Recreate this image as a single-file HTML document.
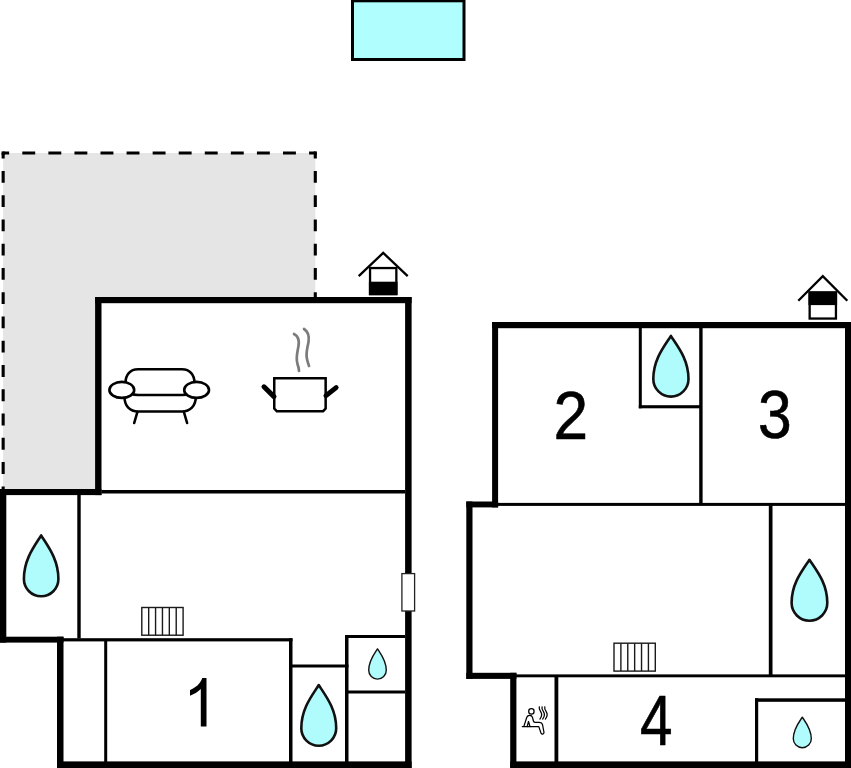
<!DOCTYPE html>
<html><head><meta charset="utf-8"><style>
html,body{margin:0;padding:0;background:#fff;width:851px;height:768px;overflow:hidden}
svg{display:block}
text{font-family:"Liberation Sans",sans-serif}
</style></head><body>
<svg width="851" height="768" viewBox="0 0 851 768">
<rect x="352.5" y="0.8" width="111.5" height="58.7" fill="#b0fefe" stroke="#000" stroke-width="3"/>
<rect x="3.1" y="153" width="312.2" height="340" fill="#e5e5e5"/>
<line x1="3.1" y1="153" x2="315.3" y2="153" stroke="#000" stroke-width="3.2" stroke-dasharray="12.9 13.17" stroke-dashoffset="6.87"/>
<line x1="3.15" y1="153" x2="3.15" y2="490" stroke="#000" stroke-width="3.1" stroke-dasharray="11.8 12.46" stroke-dashoffset="6.26"/>
<line x1="315.3" y1="153" x2="315.3" y2="298" stroke="#000" stroke-width="3.1" stroke-dasharray="11.8 12.46" stroke-dashoffset="6.26"/>
<rect x="1.55" y="151.4" width="3.15" height="3.20" fill="#000"/>
<rect x="313.75" y="151.4" width="3.15" height="3.20" fill="#000"/>
<rect x="96" y="303" width="309.00" height="187.00" fill="#fff"/>
<rect x="0" y="490" width="405.00" height="272.00" fill="#fff"/>
<rect x="95.1" y="297" width="316.50" height="6.20" fill="#000"/>
<rect x="405.1" y="297" width="6.50" height="471.00" fill="#000"/>
<rect x="57" y="761.4" width="354.60" height="6.60" fill="#000"/>
<rect x="57" y="636.7" width="6.50" height="131.30" fill="#000"/>
<rect x="0" y="636.7" width="63.50" height="5.90" fill="#000"/>
<rect x="0" y="489" width="6.30" height="153.60" fill="#000"/>
<rect x="0" y="489" width="101.50" height="6.10" fill="#000"/>
<rect x="95.1" y="297" width="6.40" height="198.10" fill="#000"/>
<rect x="101.5" y="490" width="303.50" height="3.50" fill="#000"/>
<rect x="77.3" y="493" width="3.40" height="145.50" fill="#000"/>
<rect x="63" y="638.2" width="229.50" height="3.20" fill="#000"/>
<rect x="104.2" y="641" width="3.00" height="121.00" fill="#000"/>
<rect x="289" y="638.2" width="3.50" height="123.80" fill="#000"/>
<rect x="292" y="664.5" width="56.50" height="3.00" fill="#000"/>
<rect x="345" y="635" width="3.50" height="127.00" fill="#000"/>
<rect x="345" y="635" width="60.00" height="3.00" fill="#000"/>
<rect x="345" y="690.5" width="60.00" height="3.00" fill="#000"/>
<rect x="401.9" y="573.6" width="12.7" height="37.4" fill="#fff" stroke="#222" stroke-width="1.3"/>
<rect x="498" y="329" width="347.00" height="174.00" fill="#fff"/>
<rect x="472" y="503" width="373.00" height="259.00" fill="#fff"/>
<rect x="492" y="322" width="359.00" height="6.20" fill="#000"/>
<rect x="845" y="322" width="6.00" height="446.00" fill="#000"/>
<rect x="510.2" y="761.4" width="340.80" height="6.60" fill="#000"/>
<rect x="492.1" y="322" width="6.00" height="185.40" fill="#000"/>
<rect x="466.3" y="501.5" width="31.80" height="5.90" fill="#000"/>
<rect x="466.3" y="501.5" width="6.20" height="177.40" fill="#000"/>
<rect x="466.3" y="672.8" width="50.10" height="6.10" fill="#000"/>
<rect x="510.2" y="672.8" width="6.20" height="95.20" fill="#000"/>
<rect x="498" y="502.9" width="347.00" height="3.00" fill="#000"/>
<rect x="699.2" y="328" width="3.40" height="176.00" fill="#000"/>
<rect x="638.8" y="328" width="3.00" height="80.30" fill="#000"/>
<rect x="638.8" y="405.2" width="63.20" height="3.10" fill="#000"/>
<rect x="768.8" y="505" width="3.70" height="171.00" fill="#000"/>
<rect x="516" y="674.4" width="329.00" height="2.90" fill="#000"/>
<rect x="554.5" y="676" width="3.80" height="86.00" fill="#000"/>
<rect x="755" y="698.3" width="3.20" height="63.70" fill="#000"/>
<rect x="755" y="698.3" width="90.00" height="3.50" fill="#000"/>
<path d="M41.15,535.46 C48.05,546.36 58.40,559.43 58.40,579.05 A17.25,17.25 0 0 1 23.90,579.05 C23.90,559.43 34.25,546.36 41.15,535.46 Z" fill="#b0fcfd" stroke="#111" stroke-width="2.6" stroke-linejoin="round"/>
<path d="M318.75,685.06 C325.73,695.86 336.20,708.81 336.20,728.25 A17.45,17.45 0 0 1 301.30,728.25 C301.30,708.81 311.77,695.86 318.75,685.06 Z" fill="#b0fcfd" stroke="#111" stroke-width="2.6" stroke-linejoin="round"/>
<path d="M377.50,648.94 C381.02,654.28 386.30,660.69 386.30,670.30 A8.80,8.80 0 0 1 368.70,670.30 C368.70,660.69 373.98,654.28 377.50,648.94 Z" fill="#b0fcfd" stroke="#111" stroke-width="1.4" stroke-linejoin="round"/>
<path d="M670.90,335.96 C677.94,346.72 688.50,359.63 688.50,379.00 A17.60,17.60 0 0 1 653.30,379.00 C653.30,359.63 663.86,346.72 670.90,335.96 Z" fill="#b0fcfd" stroke="#111" stroke-width="2.6" stroke-linejoin="round"/>
<path d="M809.45,559.76 C816.59,570.53 827.30,583.46 827.30,602.85 A17.85,17.85 0 0 1 791.60,602.85 C791.60,583.46 802.31,570.53 809.45,559.76 Z" fill="#b0fcfd" stroke="#111" stroke-width="2.6" stroke-linejoin="round"/>
<path d="M802.30,717.24 C805.90,722.61 811.30,729.04 811.30,738.70 A9.00,9.00 0 0 1 793.30,738.70 C793.30,729.04 798.70,722.61 802.30,717.24 Z" fill="#b0fcfd" stroke="#111" stroke-width="1.4" stroke-linejoin="round"/>
<rect x="141.80" y="607.50" width="41.30" height="27.70" fill="#fff" stroke="#1a1a1a" stroke-width="1.4"/><line x1="148.68" y1="607.50" x2="148.68" y2="635.20" stroke="#1a1a1a" stroke-width="1.4"/><line x1="155.57" y1="607.50" x2="155.57" y2="635.20" stroke="#1a1a1a" stroke-width="1.4"/><line x1="162.45" y1="607.50" x2="162.45" y2="635.20" stroke="#1a1a1a" stroke-width="1.4"/><line x1="169.33" y1="607.50" x2="169.33" y2="635.20" stroke="#1a1a1a" stroke-width="1.4"/><line x1="176.22" y1="607.50" x2="176.22" y2="635.20" stroke="#1a1a1a" stroke-width="1.4"/>
<rect x="614.00" y="643.20" width="41.30" height="27.90" fill="#fff" stroke="#1a1a1a" stroke-width="1.4"/><line x1="620.88" y1="643.20" x2="620.88" y2="671.10" stroke="#1a1a1a" stroke-width="1.4"/><line x1="627.77" y1="643.20" x2="627.77" y2="671.10" stroke="#1a1a1a" stroke-width="1.4"/><line x1="634.65" y1="643.20" x2="634.65" y2="671.10" stroke="#1a1a1a" stroke-width="1.4"/><line x1="641.53" y1="643.20" x2="641.53" y2="671.10" stroke="#1a1a1a" stroke-width="1.4"/><line x1="648.42" y1="643.20" x2="648.42" y2="671.10" stroke="#1a1a1a" stroke-width="1.4"/>
<polyline points="358.70,276.20 383.20,252.90 407.70,276.20" fill="none" stroke="#000" stroke-width="2.3"/><rect x="370.05" y="268.05" width="26.30" height="26.00" fill="#fff" stroke="#000" stroke-width="2.3"/><rect x="368.9" y="281.7" width="28.60" height="13.50" fill="#000"/>
<polyline points="798.30,300.70 822.80,276.20 847.30,300.70" fill="none" stroke="#000" stroke-width="2.3"/><rect x="809.65" y="292.55" width="26.30" height="26.00" fill="#fff" stroke="#000" stroke-width="2.3"/><rect x="808.5" y="291.4" width="28.60" height="13.70" fill="#000"/>
<g fill="none" stroke="#000" stroke-width="2.6" stroke-linecap="round">
<path d="M125.5,383 C125.5,375 130,369.3 138,369.3 L182,369.3 C190,369.3 194.5,375 194.5,383"/>
<path d="M131,393.3 C133.5,395 135.5,395 138,395 L182,395 C184.5,395 186.5,395 189,393.3"/>
<path d="M124.5,397 C124.5,406 130,411.5 138,411.5 L182,411.5 C190,411.5 195.8,406 195.8,397"/>
<ellipse cx="121.8" cy="389.9" rx="12.4" ry="8.0" fill="#fff"/>
<ellipse cx="196.6" cy="389.9" rx="12.4" ry="8.0" fill="#fff"/>
<path d="M137.4,412 L134.2,423"/>
<path d="M183.9,412 L187.1,423"/>
</g>
<g fill="none" stroke-linecap="round">
<path d="M274.25,378.2 L325.65,378.2 L325.65,408.6 L323.1,411.2 L276.8,411.2 L274.25,408.6 Z" stroke="#000" stroke-width="2.5" fill="#fff"/>
<path d="M264,386.8 L274,396.6" stroke="#000" stroke-width="5" stroke-linecap="round"/>
<path d="M336.1,387.6 L326,395.6" stroke="#000" stroke-width="5" stroke-linecap="round"/>
<path d="M294,334 C298,336 299.5,340 298.5,346 C297.5,352 295.5,358 297.5,364 C298.5,367 299,369 299,371" stroke="#7c7c7c" stroke-width="2.7"/>
<path d="M304,329 C308,331.5 309.5,336 308.5,342 C307.5,348 305.5,353 307,359 C307.5,362 308.5,364 309,366" stroke="#7c7c7c" stroke-width="2.7"/>
</g>
<g fill="none" stroke="#000" stroke-width="1.25" stroke-linecap="round" stroke-linejoin="round">
<circle cx="531.4" cy="711.4" r="2.7"/>
<path d="M522.3,726.6 L538.8,726.6 L541,733 C541.6,734.6 543.8,734.6 544,732.5 L542.5,724.5 C542,722.8 541,722.3 539.5,722.3 L535,722.3 C534,722.3 533.6,721.8 533.4,721 L532.5,717.3 C532.1,715.8 531,715.3 529.6,715.3 C528.2,715.3 527.3,716 526.8,717.3 L523.8,726.6"/>
<path d="M527.2,726.6 L528.5,721.5 L530,726.6"/>
<path d="M539.30,706.8 C538.70,708.6 539.70,710.2 540.80,711.8 C542.10,713.8 541.60,716.8 539.90,719.1"/>
<path d="M542.05,706.8 C541.45,708.6 542.45,710.2 543.55,711.8 C544.85,713.8 544.35,716.8 542.65,719.1"/>
<path d="M544.80,706.8 C544.20,708.6 545.20,710.2 546.30,711.8 C547.60,713.8 547.10,716.8 545.40,719.1"/>
</g>
<path d="M200.8,726.5 L206.5,726.5 L206.5,678 L202.3,678 C200.5,683.5 196,687.5 190,690 L190,695.7 C194.5,694 198.5,691.5 200.8,689 Z" fill="#000"/>
<text transform="translate(553.60,438.80) scale(0.622,0.686)" x="0" y="0" font-family="Liberation Sans, sans-serif" font-size="100" fill="#000" stroke="#000" stroke-width="0.9">2</text>
<text transform="translate(757.90,438.40) scale(0.606,0.684)" x="0" y="0" font-family="Liberation Sans, sans-serif" font-size="100" fill="#000" stroke="#000" stroke-width="0.9">3</text>
<text transform="translate(640.00,745.00) scale(0.584,0.709)" x="0" y="0" font-family="Liberation Sans, sans-serif" font-size="100" fill="#000" stroke="#000" stroke-width="0.9">4</text>
</svg>
</body></html>
